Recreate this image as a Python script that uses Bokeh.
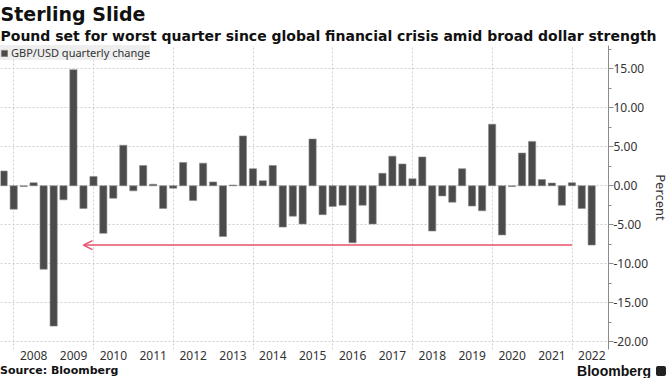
import pandas as pd
from bokeh.plotting import figure
from bokeh.layouts import column
from bokeh.models import (FixedTicker, NumeralTickFormatter, Range1d, Title, Arrow, OpenHead,
                          Legend, LegendItem, ColumnDataSource, DatetimeTickFormatter, Div)
from bokeh.embed import file_html
from bokeh.resources import INLINE

# ---- data ----
first_quarter_end = "2007-09-30"
last_quarter_end = "2022-06-30"
change = [1.9, -3.0, -0.1, 0.4, -10.7, -18.0, -1.8, 14.9, -2.9, 1.2,
          -6.1, -1.6, 5.2, -0.65, 2.6, 0.2, -2.9, -0.3, 3.0, -1.9,
          2.9, 0.5, -6.5, 0.1, 6.4, 2.2, 0.65, 2.6, -5.3, -3.9,
          -4.9, 6.0, -3.7, -2.65, -2.5, -7.3, -2.5, -4.9, 1.6, 3.8,
          2.8, 0.9, 3.7, -5.8, -1.3, -2.1, 2.2, -2.6, -3.2, 7.9,
          -6.3, -0.1, 4.2, 5.7, 0.8, 0.35, -2.5, 0.4, -2.9, -7.6]
years = list(range(2008, 2023))
y_ticks = [-20, -15, -10, -5, 0, 5, 10, 15]
arrow_from = "2021-12-31"
arrow_to = "2009-09-30"

title = "Sterling Slide"
subtitle = "Pound set for worst quarter since global financial crisis amid broad dollar strength"
legend_label = "GBP/USD quarterly change"
y_label = "Percent"
source_note = "Source: Bloomberg"
brand = "Bloomberg"

try:
    quarter_ends = pd.date_range(first_quarter_end, last_quarter_end, freq="QE")
except Exception:
    quarter_ends = pd.date_range(first_quarter_end, last_quarter_end, freq="Q")


def ms(d):
    return pd.Timestamp(d).value / 1e6


source = ColumnDataSource(dict(date=quarter_ends, change=change))

BAR = "#4b4b4b"
RED = "#e8506a"
TXT = "#333333"
FONT = "Noto Sans"
TFONT = "DejaVu Sans"

p = figure(width=672, height=362, x_axis_type="datetime", y_axis_location="right",
           x_range=Range1d(ms("2007-09-01"), ms("2022-12-01")), y_range=Range1d(-21, 18),
           output_backend="svg", toolbar_location=None,
           min_border_left=0, min_border_right=0, min_border_top=0, min_border_bottom=0,
           outline_line_color=None, background_fill_color="white", margin=0)

p.title.text = title
p.title.text_font = TFONT
p.title.text_font_size = "19px"
p.title.text_font_style = "bold"
p.title.text_color = "#111111"
p.title.offset = 0
p.title.standoff = 0
p.add_layout(Title(text=subtitle, text_font=TFONT, text_font_size="14px", text_font_style="bold",
                   text_color="#111111", offset=0, standoff=3), "above")

bar_width = 66 * 24 * 3600 * 1000
r = p.vbar(x="date", top="change", bottom=0, width=bar_width, source=source,
           fill_color=BAR, line_color="#8a8a8a", line_width=0.6)

# grids
p.xgrid.ticker = FixedTicker(ticks=[ms(f"{y}-01-01") for y in years if y % 2 == 0])
p.ygrid.ticker = FixedTicker(ticks=y_ticks)
for g in (p.xgrid, p.ygrid):
    g.grid_line_color = "#cfcfcf"
    g.grid_line_dash = "2 2"
    g.grid_line_width = 1

# x axis
xa = p.xaxis[0]
xa.ticker = FixedTicker(ticks=[ms(f"{y}-07-01") for y in years])
xa.formatter = DatetimeTickFormatter(years="%Y", months="%Y", days="%Y", hours="%Y",
                                     minutes="%Y", seconds="%Y", milliseconds="%Y",
                                     microseconds="%Y", minsec="%Y", hourmin="%Y")
xa.axis_line_color = None
xa.major_tick_line_color = None
xa.minor_tick_line_color = None
xa.major_tick_out = 0
xa.minor_tick_out = 0
xa.major_label_text_font = FONT
xa.major_label_text_font_size = "12px"
xa.major_label_text_color = TXT
xa.major_label_standoff = 1

# y axis (right)
ya = p.yaxis[0]
ya.ticker = FixedTicker(ticks=y_ticks, minor_ticks=[v + 2.5 for v in y_ticks] + [-22.5])
ya.formatter = NumeralTickFormatter(format="0.00")
ya.axis_line_color = "#8c8c8c"
ya.major_tick_line_color = "#8c8c8c"
ya.minor_tick_line_color = "#8c8c8c"
ya.major_tick_out = 5
ya.major_tick_in = 0
ya.minor_tick_out = 3
ya.minor_tick_in = 0
ya.major_label_text_font = FONT
ya.major_label_text_font_size = "12px"
ya.major_label_text_color = TXT
ya.major_label_standoff = 0

p.add_layout(Title(text=y_label, text_font=FONT, text_font_size="13px", text_font_style="normal",
                   text_color=TXT, align="center", offset=0, standoff=1), "right")

# arrow
p.add_layout(Arrow(end=OpenHead(size=9, line_color=RED, line_width=1.5),
                   x_start=ms(arrow_from), y_start=change[-1],
                   x_end=ms(arrow_to), y_end=change[-1],
                   line_color=RED, line_width=1.5))

legend = Legend(items=[LegendItem(label=legend_label, renderers=[r])], location="top_left",
                margin=0, padding=4, spacing=0, glyph_width=8, glyph_height=8,
                label_text_font=FONT, label_text_font_size="11px", label_text_color=TXT,
                label_standoff=3, label_height=14, background_fill_color="#eeeeee",
                background_fill_alpha=1, border_line_color=None)
p.add_layout(legend)

footer = Div(text=(
    '<div style="display:flex;justify-content:space-between;align-items:center;'
    'width:666px;color:#111;line-height:16px;">'
    f'<span style="font-family:\'DejaVu Sans\';font-size:11px;font-weight:bold;">{source_note}</span>'
    f'<span style="font-family:\'Liberation Sans\';font-size:14px;font-weight:bold;">{brand}'
    '<span style="display:inline-block;width:10px;height:10px;background:#222;border-radius:2px;'
    'margin-left:5px;"></span></span></div>'),
    width=672, height=16, margin=0)

layout = column(p, footer, spacing=0, margin=0)
open("out.html", "w").write(file_html(layout, INLINE))
